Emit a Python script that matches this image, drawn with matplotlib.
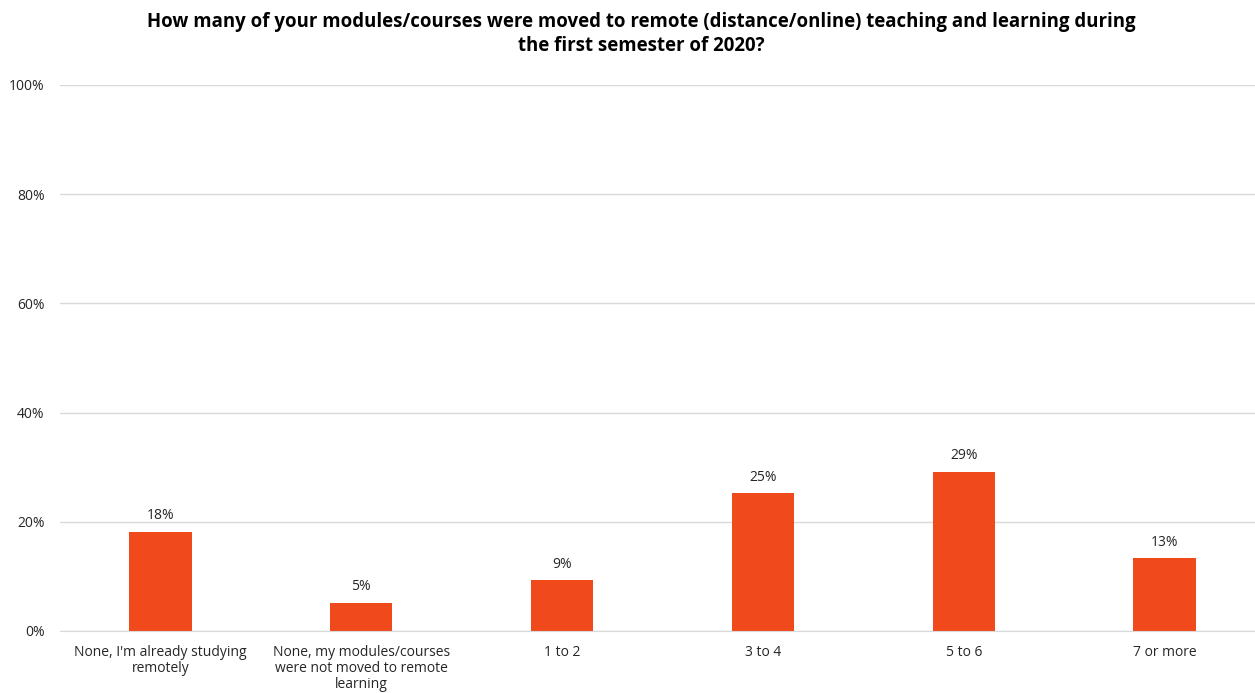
import matplotlib.pyplot as plt

categories = ["None, I'm already studying\nremotely",
              "None, my modules/courses\nwere not moved to remote\nlearning",
              "1 to 2", "3 to 4", "5 to 6", "7 or more"]
values = [18.2, 5.2, 9.3, 25.2, 29.2, 13.3]
yticks = [0, 20, 40, 60, 80, 100]

plt.rcParams['font.family'] = ['Open Sans', 'DejaVu Sans']

fig = plt.figure(figsize=(12.55, 6.93), dpi=100)
ax = fig.add_axes([60 / 1255, 62 / 693, 1205 / 1255, 546 / 693])

x = range(len(categories))
bars = ax.bar(x, values, width=0.31, color='#f0491b')
for b, v in zip(bars, values):
    ax.text(b.get_x() + b.get_width() / 2, v + 1.5, f"{v:.0f}%",
            ha='center', va='bottom', fontsize=10, color='#262626')

ax.set_xlim(-0.5, 5.5)
ax.set_ylim(0, 100)
ax.set_yticks(yticks)
ax.set_yticklabels([f"{t}%" for t in yticks], fontsize=10, color='#262626')
ax.set_xticks(list(x))
ax.set_xticklabels(categories, fontsize=10, color='#262626', va='top', linespacing=1.1)
ax.tick_params(length=0, pad=10)
ax.tick_params(axis='y', pad=11)
ax.grid(axis='y', color='#d9d9d9', linewidth=1)
ax.set_axisbelow(True)
for s in ['top', 'right', 'left']:
    ax.spines[s].set_visible(False)
ax.spines['bottom'].set_color('#d9d9d9')

fig.text(641 / 1255, 1 - 34 / 693,
         "How many of your modules/courses were moved to remote (distance/online) teaching and learning during\nthe first semester of 2020?",
         ha='center', va='center', fontsize=13.4, fontweight='bold', linespacing=1.25)

fig.savefig('out.png', dpi=100)
